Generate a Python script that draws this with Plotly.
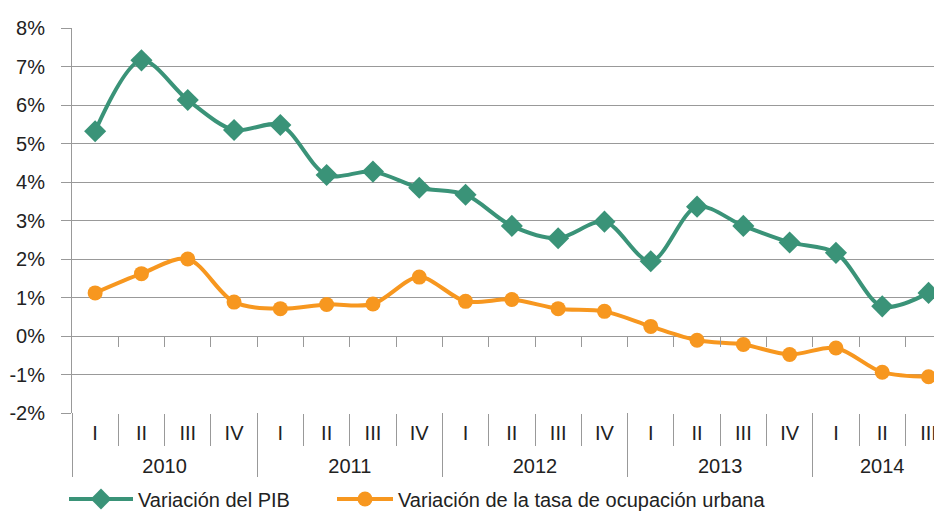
import plotly.graph_objects as go

years = ["2010"] * 4 + ["2011"] * 4 + ["2012"] * 4 + ["2013"] * 4 + ["2014"] * 3
quarters = ["I", "II", "III", "IV"] * 4 + ["I", "II", "III"]
pib = [5.32, 7.16, 6.13, 5.35, 5.48, 4.18, 4.27, 3.85, 3.67, 2.86, 2.54, 2.97,
       1.94, 3.36, 2.86, 2.43, 2.16, 0.77, 1.12]
ocupacion = [1.12, 1.62, 2.00, 0.88, 0.71, 0.82, 0.83, 1.53, 0.90, 0.95, 0.71, 0.64,
             0.25, -0.11, -0.22, -0.48, -0.31, -0.94, -1.06]
y_ticks = list(range(-2, 9))
y_labels = [f"{v}%" for v in y_ticks]

GREEN = "#3A9378"
ORANGE = "#F7971F"
GRID = "#999999"
TEXT = "#222222"
FONT = "Liberation Sans, Arial, sans-serif"
FS = 20

n = len(pib)
idx = list(range(n))
quarter_bounds = [i + 0.5 for i in range(n - 1)]
year_names = list(dict.fromkeys(years))
year_centers = [sum(i for i in idx if years[i] == y) / years.count(y) for y in year_names]
year_bounds = [-0.5] + [i - 0.5 for i in range(1, n) if years[i] != years[i - 1]] + [n - 0.5]

# page body has an 8px margin: work in screen pixels, convert to figure pixels
OFF = 8
W, H = 942, 513
left_s, top_s, ybot_s, label_bot_s = 72, 28, 413, 477
cat_px = 46.3
M_L = left_s - OFF
M_T = top_s - OFF
M_B = H - (label_bot_s - OFF)
M_R = 0
plot_w = W - M_L - M_R
plot_h = H - M_T - M_B
xr = [-0.5, -0.5 + plot_w / cat_px]
dom0 = (label_bot_s - ybot_s) / plot_h
ymin, ymax = -2, 8
zero_pos = dom0 + (1 - dom0) * (0 - ymin) / (ymax - ymin)

fig = go.Figure()
fig.add_trace(go.Scatter(
    x=idx, y=pib, name="Variación del PIB", legend="legend",
    mode="lines+markers", line=dict(color=GREEN, width=4, shape="spline", smoothing=0.9),
    marker=dict(symbol="diamond", size=17, color=GREEN),
))
fig.add_trace(go.Scatter(
    x=idx, y=ocupacion, name="Variación de la tasa de ocupación urbana", legend="legend2",
    mode="lines+markers", line=dict(color=ORANGE, width=4, shape="spline", smoothing=0.9),
    marker=dict(symbol="circle", size=15, color=ORANGE),
))
# anchor traces (invisible) so the helper axes get drawn
for ax in ("x2", "x3"):
    fig.add_trace(go.Scatter(x=idx, y=pib, xaxis=ax, mode="markers",
                             marker=dict(opacity=0), showlegend=False, hoverinfo="skip"))

leg_y = -(499 - label_bot_s) / plot_h
fig.update_layout(
    width=W, height=H,
    margin=dict(l=M_L, r=M_R, t=M_T, b=M_B, autoexpand=False),
    paper_bgcolor="white", plot_bgcolor="white",
    font=dict(family=FONT, size=FS, color=TEXT),
    showlegend=True,
    legend=dict(orientation="h", x=(72 - 8 - left_s) / plot_w, xanchor="left", y=leg_y, yanchor="middle",
                font=dict(size=FS, color=TEXT), itemwidth=64, bgcolor="rgba(0,0,0,0)"),
    legend2=dict(orientation="h", x=(340 - 8 - left_s) / plot_w, xanchor="left", y=leg_y, yanchor="middle",
                 font=dict(size=FS, color=TEXT), itemwidth=56, bgcolor="rgba(0,0,0,0)"),
    xaxis=dict(
        type="linear", range=xr, anchor="y",
        tickmode="array", tickvals=idx, ticktext=quarters, ticks="",
        showgrid=False, zeroline=False, showline=False,
        tickfont=dict(size=FS, color=TEXT), ticklabelstandoff=6,
        minor=dict(tickmode="array", tickvals=quarter_bounds, ticks="outside",
                   ticklen=32, tickcolor=GRID, tickwidth=1, showgrid=False),
        automargin=False,
    ),
    xaxis2=dict(
        type="linear", overlaying="x", anchor="free", position=zero_pos, side="bottom",
        range=xr, tickmode="array", tickvals=quarter_bounds,
        ticks="outside", ticklen=10, tickcolor=GRID, tickwidth=1,
        showticklabels=False, showgrid=False, zeroline=False, showline=False,
    ),
    xaxis3=dict(
        type="linear", overlaying="x", anchor="free", position=0, side="top",
        range=xr, tickmode="array", tickvals=year_centers, ticktext=year_names, ticks="",
        showgrid=False, zeroline=False, showline=False,
        tickfont=dict(size=FS, color=TEXT), ticklabelstandoff=0,
        minor=dict(tickmode="array", tickvals=year_bounds, ticks="outside",
                   ticklen=64, tickcolor=GRID, tickwidth=1, showgrid=False),
    ),
    yaxis=dict(
        domain=[dom0, 1],
        range=[ymin, ymax], tickmode="array", tickvals=y_ticks, ticktext=y_labels,
        showgrid=True, gridcolor=GRID, gridwidth=1,
        zeroline=False, showline=True, linecolor=GRID, linewidth=1,
        ticks="outside", ticklen=10, tickcolor=GRID,
        tickfont=dict(size=FS, color=TEXT), ticklabelstandoff=12,
        automargin=False,
    ),
)

fig.write_html("out.html")
